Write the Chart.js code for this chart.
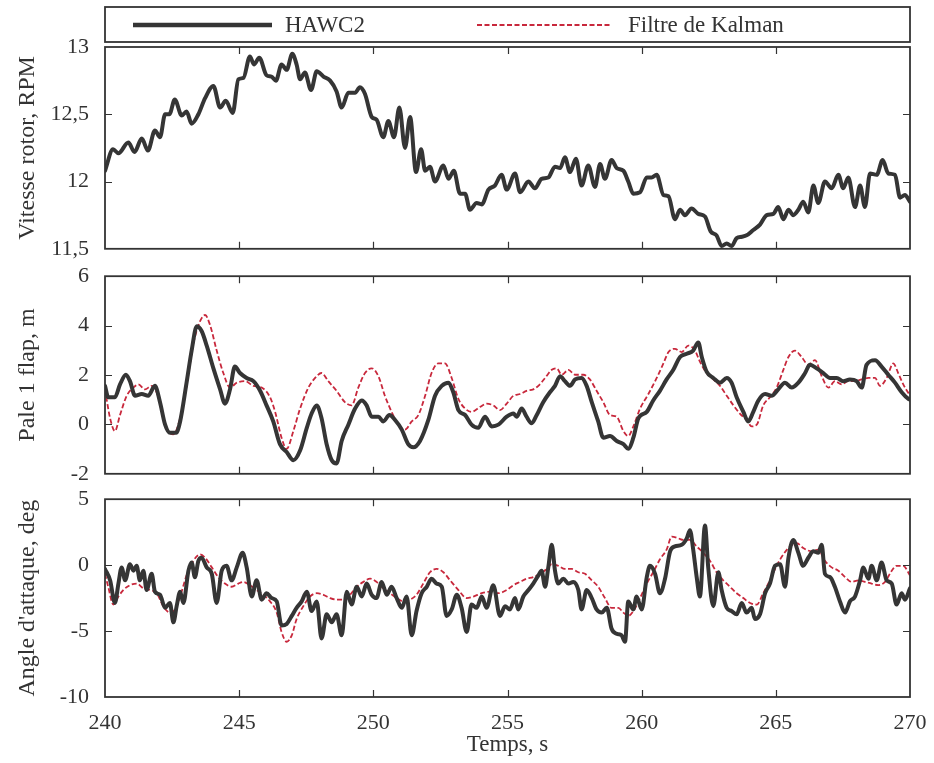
<!DOCTYPE html>
<html>
<head>
<meta charset="utf-8">
<script src="https://cdn.jsdelivr.net/npm/chart.js@4.4.1/dist/chart.umd.min.js"></script>
<style>
  html, body { margin: 0; padding: 0; background: #fff; }
  #wrap { position: relative; width: 934px; height: 763px; overflow: hidden; background: #fff; }
  #wrap canvas { position: absolute; left: 0; }
</style>
</head>
<body>
<div id="wrap">
  <canvas id="rotor" width="934" height="270" style="top:0px"></canvas>
  <canvas id="flap" width="934" height="240" style="top:255px"></canvas>
  <canvas id="aoa" width="934" height="285" style="top:478px"></canvas>
</div>
<script>
// Time axis and per-panel tick values
const timeTicks = [240, 245, 250, 255, 260, 265, 270];
const rotorTicks = [11.5, 12, 12.5, 13];
const flapTicks = [-2, 0, 2, 4, 6];
const aoaTicks = [-10, -5, 0, 5];

const seriesNames = ['HAWC2', 'Filtre de Kalman'];
const yTitles = ['Vitesse rotor, RPM', 'Pale 1 flap, m', "Angle d'attaque, deg"];
const xTitle = 'Temps, s';

// Rotor speed [time s, RPM] — HAWC2 simulation
const rotorHawc2 = [
  [240,12.08],[240.3,12.24],[240.5,12.21],[240.87,12.29],[241.1,12.22],[241.37,12.32],[241.6,12.23],[241.86,12.38],
  [242.05,12.33],[242.24,12.5],[242.4,12.5],[242.6,12.61],[242.86,12.49],[243.04,12.52],[243.23,12.43],[243.48,12.5],
  [243.73,12.62],[244.04,12.71],[244.29,12.55],[244.5,12.6],[244.76,12.51],[244.97,12.76],[245.16,12.77],[245.4,12.93],
  [245.55,12.87],[245.75,12.92],[246.02,12.79],[246.2,12.78],[246.37,12.75],[246.58,12.87],[246.77,12.83],[246.98,12.95],
  [247.14,12.87],[247.27,12.76],[247.45,12.81],[247.68,12.68],[247.89,12.82],[248.14,12.78],[248.39,12.75],[248.63,12.67],
  [248.82,12.55],[249.07,12.66],[249.32,12.66],[249.5,12.7],[249.69,12.65],[249.94,12.48],[250.12,12.46],[250.37,12.33],
  [250.56,12.45],[250.77,12.33],[250.97,12.55],[251.18,12.25],[251.37,12.48],[251.59,12.07],[251.78,12.24],[251.93,12.08],
  [252.11,12.11],[252.3,12.0],[252.61,12.12],[252.8,12.02],[253.0,12.08],[253.23,11.91],[253.42,11.91],[253.6,11.79],
  [253.85,11.84],[254.04,11.83],[254.29,11.94],[254.53,11.97],[254.78,12.05],[254.97,11.94],[255.28,12.06],[255.47,11.92],
  [255.78,12.0],[256.02,11.95],[256.27,12.02],[256.52,12.03],[256.77,12.11],[256.96,12.1],[257.14,12.18],[257.33,12.07],
  [257.55,12.17],[257.76,11.97],[258.01,12.12],[258.26,11.96],[258.45,12.13],[258.63,12.02],[258.88,12.16],[259.07,12.1],
  [259.32,12.08],[259.5,12.0],[259.69,11.91],[259.94,11.92],[260.19,12.03],[260.37,12.03],[260.56,12.05],[260.81,11.9],
  [261.0,11.89],[261.24,11.72],[261.43,11.79],[261.61,11.75],[261.86,11.8],[262.11,11.76],[262.36,11.74],[262.57,11.63],
  [262.79,11.6],[262.98,11.52],[263.17,11.54],[263.35,11.52],[263.54,11.58],[263.73,11.59],[263.91,11.6],[264.16,11.64],
  [264.41,11.68],[264.66,11.75],[264.91,11.76],[265.09,11.81],[265.28,11.72],[265.47,11.79],[265.65,11.75],[265.84,11.79],
  [266.02,11.85],[266.21,11.77],[266.4,11.97],[266.58,11.84],[266.83,12.0],[267.08,11.95],[267.33,12.05],[267.51,11.95],
  [267.7,12.03],[267.95,11.81],[268.14,11.97],[268.32,11.81],[268.51,12.06],[268.76,12.05],[268.98,12.16],[269.19,12.06],
  [269.44,12.05],[269.63,11.88],[269.81,11.9],[270,11.85]
];

// Blade 1 flapwise deflection [time s, m]
const flapHawc2 = [
  [240,1.56],[240.12,1.1],[240.37,1.1],[240.56,1.62],[240.78,2.01],[240.93,1.75],[241.12,1.16],[241.37,1.23],
  [241.61,1.16],[241.86,1.56],[242.05,0.9],[242.24,-0.01],[242.42,-0.34],[242.65,-0.34],[242.8,0.12],[243.04,1.69],
  [243.23,3.0],[243.42,3.97],[243.6,3.78],[243.79,3.19],[244.04,2.27],[244.29,1.42],[244.47,0.84],[244.66,1.42],
  [244.84,2.34],[245.03,2.08],[245.28,1.88],[245.53,1.75],[245.78,1.36],[246.02,0.77],[246.27,0.12],[246.52,-0.8],
  [246.77,-1.12],[247.02,-1.45],[247.27,-1.06],[247.52,-0.14],[247.7,0.44],[247.89,0.77],[248.07,0.25],[248.26,-0.8],
  [248.45,-1.45],[248.63,-1.58],[248.82,-0.67],[249.07,-0.01],[249.32,0.64],[249.57,0.97],[249.75,0.77],[249.94,0.31],
  [250.19,0.31],[250.37,0.12],[250.6,0.38],[250.81,0.18],[251.06,-0.21],[251.3,-0.8],[251.49,-0.93],[251.74,-0.67],
  [252.05,0.18],[252.3,1.16],[252.55,1.56],[252.8,1.69],[252.98,1.3],[253.17,0.58],[253.42,0.38],[253.66,-0.01],
  [253.91,-0.14],[254.16,0.31],[254.41,-0.08],[254.66,-0.01],[254.97,0.31],[255.22,0.44],[255.34,0.31],[255.53,0.64],
  [255.71,0.31],[255.9,0.05],[256.09,0.38],[256.33,0.9],[256.58,1.3],[256.77,1.56],[256.96,1.95],[257.14,1.75],
  [257.33,1.56],[257.52,1.82],[257.76,1.88],[257.95,1.56],[258.14,0.9],[258.38,0.12],[258.57,-0.54],[258.82,-0.47],
  [259.07,-0.67],[259.32,-0.8],[259.5,-0.99],[259.69,-0.54],[259.88,0.25],[260.19,0.51],[260.43,0.97],[260.68,1.36],
  [260.93,1.82],[261.18,2.21],[261.43,2.73],[261.68,2.86],[261.92,2.99],[262.11,3.32],[262.24,2.73],[262.42,2.14],
  [262.67,1.88],[262.92,1.69],[263.17,1.88],[263.35,1.69],[263.54,1.1],[263.79,0.51],[263.97,0.12],[264.16,0.51],
  [264.35,0.97],[264.6,1.23],[264.84,1.16],[265.09,1.42],[265.34,1.69],[265.59,1.49],[265.84,1.69],[266.09,2.08],
  [266.27,2.41],[266.52,2.27],[266.77,2.08],[267.02,1.88],[267.27,1.88],[267.51,1.75],[267.76,1.82],[268.01,1.75],
  [268.2,1.49],[268.38,2.41],[268.7,2.6],[268.94,2.34],[269.19,2.01],[269.44,1.69],[269.69,1.3],[269.94,1.03],[270,1.0]
];
const flapKalman = [
  [240,1.42],[240.19,0.25],[240.37,-0.27],[240.56,0.38],[240.81,1.16],[241.06,1.49],[241.24,1.62],[241.49,1.42],
  [241.74,1.56],[241.99,1.1],[242.17,0.25],[242.36,-0.27],[242.55,-0.4],[242.8,0.25],[243.04,1.56],[243.29,3.25],
  [243.54,4.17],[243.73,4.43],[243.91,4.04],[244.16,3.0],[244.41,2.08],[244.66,1.49],[244.91,1.69],[245.22,1.75],
  [245.53,1.56],[245.84,1.49],[246.15,1.1],[246.34,0.51],[246.58,-0.54],[246.77,-0.99],[247.02,-0.27],[247.27,0.64],
  [247.58,1.49],[247.83,1.88],[248.07,2.08],[248.32,1.75],[248.63,1.36],[248.94,0.9],[249.19,0.77],[249.44,1.49],
  [249.69,2.08],[249.94,2.27],[250.19,1.95],[250.43,1.16],[250.68,0.51],[250.93,-0.01],[251.18,-0.21],[251.43,0.12],
  [251.68,0.38],[251.93,1.16],[252.17,2.08],[252.42,2.47],[252.67,2.47],[252.92,1.88],[253.17,1.03],[253.42,0.64],
  [253.66,0.51],[253.98,0.71],[254.22,0.84],[254.47,0.77],[254.72,0.58],[254.97,0.84],[255.22,1.16],[255.47,1.23],
  [255.71,1.36],[255.96,1.42],[256.15,1.56],[256.4,1.88],[256.65,2.21],[256.83,2.27],[257.02,2.01],[257.27,2.21],
  [257.52,2.01],[257.83,2.01],[258.07,1.82],[258.32,1.36],[258.57,0.9],[258.82,0.38],[259.07,0.31],[259.32,-0.27],
  [259.5,-0.47],[259.69,-0.08],[259.94,0.64],[260.25,1.23],[260.56,1.88],[260.81,2.47],[261.0,2.93],[261.24,3.06],
  [261.49,2.93],[261.74,3.19],[261.99,2.99],[262.17,2.54],[262.42,2.08],[262.67,1.82],[262.92,1.56],[263.17,1.16],
  [263.42,0.77],[263.66,0.44],[263.91,0.18],[264.1,-0.08],[264.29,-0.01],[264.53,0.77],[264.78,1.1],[265.03,1.49],
  [265.28,2.21],[265.47,2.73],[265.71,2.99],[265.96,2.73],[266.21,2.41],[266.46,2.6],[266.71,1.95],[266.96,1.49],
  [267.2,1.75],[267.45,1.62],[267.7,1.75],[267.95,1.75],[268.2,1.82],[268.45,1.88],[268.7,1.88],[268.88,1.56],
  [269.13,1.88],[269.38,2.47],[269.56,2.08],[269.75,1.62],[270,1.16]
];

// Angle of attack [time s, deg]
const aoaHawc2 = [
  [240,-0.29],[240.19,-1.15],[240.37,-2.87],[240.5,-1.4],[240.62,-0.17],[240.75,-1.15],[240.93,0.07],[241.06,-0.42],
  [241.18,-0.05],[241.3,-1.15],[241.43,-0.42],[241.55,-1.89],[241.74,-0.66],[241.86,-2.01],[242.05,-2.25],[242.24,-3.24],
  [242.42,-2.87],[242.55,-4.34],[242.67,-3.11],[242.8,-2.01],[242.92,-2.87],[243.11,-0.42],[243.23,0.2],[243.35,-0.91],
  [243.48,0.32],[243.6,0.56],[243.79,-0.17],[243.98,-0.66],[244.16,-2.87],[244.35,-0.42],[244.53,-0.05],[244.72,-1.15],
  [244.91,-0.17],[245.13,0.93],[245.28,-0.17],[245.47,-2.38],[245.65,-1.15],[245.84,-2.62],[246.02,-2.13],[246.21,-2.5],
  [246.4,-2.75],[246.58,-4.58],[246.77,-4.46],[246.96,-3.85],[247.14,-3.24],[247.33,-2.75],[247.52,-2.01],[247.7,-3.48],
  [247.89,-2.75],[248.07,-5.56],[248.26,-3.73],[248.45,-4.34],[248.63,-3.73],[248.82,-5.32],[249.01,-2.01],[249.19,-2.99],
  [249.38,-1.64],[249.57,-2.38],[249.75,-1.4],[249.94,-2.25],[250.12,-2.5],[250.31,-1.27],[250.5,-2.25],[250.68,-1.64],
  [250.87,-2.5],[251.06,-3.24],[251.24,-2.38],[251.43,-5.32],[251.61,-3.48],[251.8,-2.13],[251.99,-1.64],[252.17,-1.03],
  [252.36,-1.4],[252.55,-1.64],[252.73,-3.85],[252.92,-3.36],[253.11,-2.25],[253.29,-3.24],[253.48,-5.07],[253.66,-2.99],
  [253.85,-3.24],[254.04,-2.38],[254.22,-3.24],[254.47,-1.52],[254.72,-3.85],[254.91,-3.11],[255.09,-3.36],[255.28,-2.5],
  [255.4,-3.36],[255.59,-2.38],[255.78,-1.89],[255.96,-1.4],[256.15,-0.78],[256.27,-0.42],[256.4,-1.64],[256.52,-0.17],
  [256.65,1.54],[256.77,-0.42],[256.89,-1.4],[257.08,-1.03],[257.27,-1.4],[257.45,-1.27],[257.64,-1.89],[257.76,-3.36],
  [257.95,-1.89],[258.14,-2.5],[258.32,-3.36],[258.51,-3.6],[258.7,-3.24],[258.88,-4.83],[259.07,-5.2],[259.25,-5.32],
  [259.38,-5.81],[259.5,-2.75],[259.69,-3.36],[259.81,-2.38],[260.0,-3.36],[260.19,-0.91],[260.31,-0.05],[260.5,-0.66],
  [260.68,-2.13],[260.87,-1.03],[261.06,1.05],[261.24,1.42],[261.49,1.54],[261.68,2.03],[261.8,2.65],[261.92,1.18],
  [262.05,-0.91],[262.17,-2.38],[262.36,3.01],[262.48,-0.17],[262.67,-3.11],[262.86,-0.54],[262.98,-1.89],[263.17,-3.24],
  [263.35,-3.48],[263.54,-3.73],[263.73,-2.87],[263.91,-3.6],[264.1,-3.24],[264.22,-4.09],[264.41,-3.73],[264.6,-2.13],
  [264.78,-1.4],[264.97,-0.05],[265.16,0.07],[265.34,-1.64],[265.47,0.56],[265.65,1.91],[265.84,0.93],[266.02,-0.05],
  [266.21,0.56],[266.4,1.05],[266.58,0.93],[266.71,1.54],[266.83,-0.66],[267.02,-0.91],[267.2,-1.64],[267.39,-2.75],
  [267.58,-3.6],[267.76,-2.75],[267.95,-2.38],[268.14,-1.15],[268.26,-0.17],[268.45,-1.03],[268.57,-0.05],[268.76,-1.15],
  [268.94,0.2],[269.13,-1.15],[269.32,-1.4],[269.5,-2.99],[269.69,-2.13],[269.81,-2.62],[270,-1.76]
];
const aoaKalman = [
  [240,-0.66],[240.12,-1.64],[240.31,-2.99],[240.5,-2.38],[240.68,-1.89],[240.93,-1.52],[241.18,-1.4],[241.43,-1.76],
  [241.68,-1.89],[241.93,-2.13],[242.17,-3.11],[242.42,-3.6],[242.61,-3.36],[242.8,-2.38],[243.04,-0.78],[243.29,0.32],
  [243.54,0.81],[243.73,0.56],[243.98,-0.17],[244.22,-0.91],[244.47,-1.4],[244.72,-1.64],[244.97,-1.4],[245.16,-1.27],
  [245.4,-1.52],[245.65,-1.89],[245.9,-2.25],[246.15,-2.75],[246.4,-3.6],[246.58,-5.07],[246.77,-5.81],[246.96,-5.32],
  [247.14,-4.09],[247.39,-3.11],[247.64,-2.38],[247.89,-2.13],[248.14,-2.25],[248.39,-2.5],[248.63,-2.62],[248.88,-2.62],
  [249.13,-2.25],[249.38,-1.64],[249.63,-1.27],[249.88,-1.03],[250.12,-1.27],[250.37,-1.76],[250.62,-2.13],[250.87,-2.5],
  [251.12,-2.75],[251.37,-2.62],[251.61,-2.25],[251.86,-1.4],[252.11,-0.54],[252.36,-0.29],[252.61,-0.54],[252.86,-1.15],
  [253.17,-1.89],[253.48,-2.5],[253.73,-2.38],[254.04,-2.13],[254.35,-2.01],[254.66,-2.13],[254.97,-1.89],[255.22,-1.52],
  [255.47,-1.27],[255.71,-1.03],[255.96,-0.91],[256.21,-0.66],[256.46,-0.29],[256.65,0.07],[256.89,-0.05],[257.14,-0.29],
  [257.39,-0.29],[257.64,-0.54],[257.89,-0.66],[258.14,-1.15],[258.38,-1.64],[258.63,-2.5],[258.88,-3.24],[259.13,-3.24],
  [259.32,-3.6],[259.5,-3.85],[259.69,-3.48],[259.94,-2.5],[260.19,-1.4],[260.43,-0.54],[260.68,0.44],[260.93,1.18],
  [261.12,2.16],[261.37,2.03],[261.55,1.91],[261.8,1.91],[262.05,1.42],[262.3,0.93],[262.55,0.32],[262.79,-0.54],
  [263.04,-1.15],[263.29,-1.64],[263.54,-2.13],[263.79,-2.5],[264.04,-2.87],[264.29,-2.99],[264.53,-2.13],[264.78,-1.15],
  [265.03,-0.05],[265.28,0.81],[265.53,1.42],[265.78,1.67],[266.02,1.3],[266.33,1.05],[266.58,1.18],[266.83,0.32],
  [267.08,-0.17],[267.33,-0.42],[267.58,-0.91],[267.83,-1.27],[268.07,-1.15],[268.32,-1.27],[268.57,-1.4],[268.82,-1.52],
  [269.07,-1.27],[269.32,-0.42],[269.5,-0.05],[269.75,-0.05],[270,-0.78]
];

const INK = '#333333';
const HAWC_COLOR = '#353535';
const KALMAN_COLOR = '#c8283c';
const SERIF = "'Liberation Serif', 'Times New Roman', serif";

const toPoints = arr => arr.map(([t, v]) => ({ x: t, y: v }));

function hawcDataset(arr) {
  return {
    label: seriesNames[0], data: toPoints(arr),
    borderColor: HAWC_COLOR, borderWidth: 4, pointRadius: 0,
    cubicInterpolationMode: 'monotone', borderJoinStyle: 'round', borderCapStyle: 'round'
  };
}
function kalmanDataset(arr) {
  return {
    label: seriesNames[1], data: toPoints(arr),
    borderColor: KALMAN_COLOR, borderWidth: 1.8, borderDash: [5, 2.5], pointRadius: 0,
    cubicInterpolationMode: 'monotone'
  };
}

// Box frame with inward tick marks on all four sides
const framePlugin = {
  id: 'frame',
  afterDatasetsDraw(chart, args, opts) {
    const { ctx, chartArea: a, scales: { x, y } } = chart;
    ctx.save();
    ctx.strokeStyle = INK;
    ctx.lineWidth = 1.2;
    const len = 7;
    ctx.beginPath();
    timeTicks.forEach(v => {
      if (v <= x.min || v >= x.max) return;
      const px = Math.round(x.getPixelForValue(v)) + 0.5;
      ctx.moveTo(px, a.top); ctx.lineTo(px, a.top + len);
      ctx.moveTo(px, a.bottom); ctx.lineTo(px, a.bottom - len);
    });
    opts.yTicks.forEach(v => {
      if (v <= y.min || v >= y.max) return;
      const py = Math.round(y.getPixelForValue(v)) + 0.5;
      ctx.moveTo(a.left, py); ctx.lineTo(a.left + len, py);
      ctx.moveTo(a.right, py); ctx.lineTo(a.right - len, py);
    });
    ctx.stroke();
    ctx.lineWidth = 1.8;
    ctx.strokeRect(a.left, a.top, a.right - a.left, a.bottom - a.top);
    ctx.restore();
  }
};

// Framed legend row above the first panel
const legendBoxPlugin = {
  id: 'legendBox',
  afterDraw(chart) {
    const { ctx, chartArea: a } = chart;
    const top = 7, bottom = 42, mid = 25;
    ctx.save();
    ctx.strokeStyle = INK;
    ctx.lineWidth = 1.8;
    ctx.strokeRect(a.left, top, a.right - a.left, bottom - top);
    // HAWC2 sample line
    ctx.beginPath();
    ctx.strokeStyle = HAWC_COLOR; ctx.lineWidth = 4.5;
    ctx.moveTo(133, mid); ctx.lineTo(272, mid); ctx.stroke();
    // Kalman sample line
    ctx.beginPath();
    ctx.strokeStyle = KALMAN_COLOR; ctx.lineWidth = 1.8; ctx.setLineDash([5, 2.5]);
    ctx.moveTo(477, mid); ctx.lineTo(610, mid); ctx.stroke();
    ctx.setLineDash([]);
    ctx.fillStyle = INK;
    ctx.font = '23px ' + SERIF;
    ctx.textBaseline = 'middle';
    ctx.textAlign = 'left';
    ctx.fillText(seriesNames[0], 285, mid + 1);
    ctx.fillText(seriesNames[1], 628, mid + 1);
    ctx.restore();
  }
};

const fmtComma = v => String(v).replace('.', ',');

function makePanel(canvasId, datasets, yMin, yMax, yTicks, yTitle, showX, padding) {
  return new Chart(document.getElementById(canvasId), {
    type: 'line',
    data: { datasets },
    plugins: [framePlugin].concat(canvasId === 'rotor' ? [legendBoxPlugin] : []),
    options: {
      responsive: false,
      animation: false,
      events: [],
      layout: { padding },
      plugins: {
        legend: { display: false },
        tooltip: { enabled: false },
        frame: { yTicks }
      },
      scales: {
        x: {
          type: 'linear', min: 240, max: 270,
          display: showX,
          afterBuildTicks: s => { s.ticks = timeTicks.map(v => ({ value: v })); },
          afterFit: s => { if (showX) s.height = 62; },
          grid: { display: false },
          border: { display: false },
          ticks: { color: INK, font: { family: SERIF, size: 22 }, padding: 5, maxRotation: 0, autoSkip: false },
          title: { display: true, text: xTitle, color: INK, font: { family: SERIF, size: 23 }, padding: { top: 0, bottom: 0 } }
        },
        y: {
          type: 'linear', min: yMin, max: yMax,
          afterBuildTicks: s => { s.ticks = yTicks.map(v => ({ value: v })); },
          afterFit: s => { s.width = 105; },
          grid: { display: false },
          border: { display: false },
          ticks: { color: INK, font: { family: SERIF, size: 22 }, padding: 8, autoSkip: false, callback: v => fmtComma(v) },
          title: { display: true, text: yTitle, color: INK, font: { family: SERIF, size: 24 }, padding: { top: 13, bottom: 0 } }
        }
      }
    }
  });
}

makePanel('rotor', [hawcDataset(rotorHawc2), kalmanDataset([])], 11.5, 13, rotorTicks, yTitles[0], false,
  { left: 0, right: 24, top: 47, bottom: 19 });
makePanel('flap', [hawcDataset(flapHawc2), kalmanDataset(flapKalman)], -2, 6, flapTicks, yTitles[1], false,
  { left: 0, right: 24, top: 15, bottom: 21 });
makePanel('aoa', [hawcDataset(aoaHawc2), kalmanDataset(aoaKalman)], -10, 5, aoaTicks, yTitles[2], true,
  { left: 0, right: 24, top: 15, bottom: 4 });
</script>
</body>
</html>
